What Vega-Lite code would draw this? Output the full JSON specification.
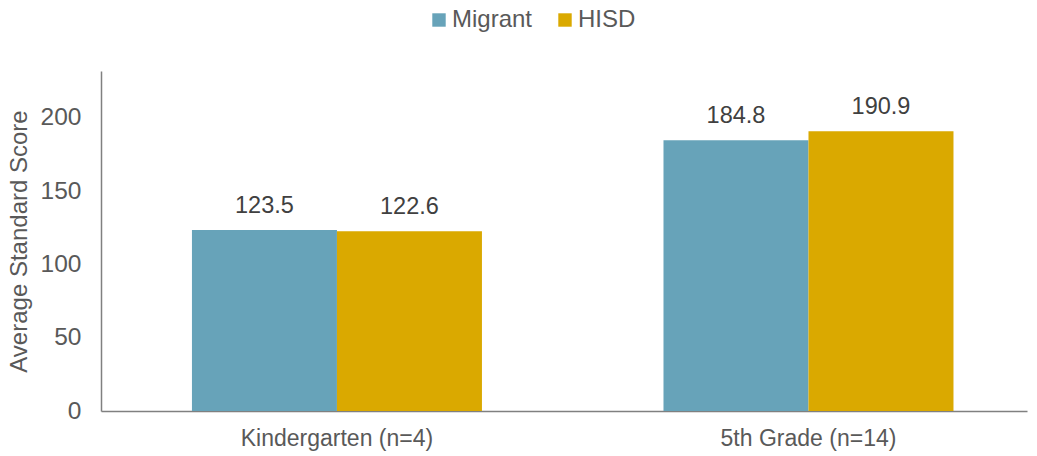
{
  "$schema": "https://vega.github.io/schema/vega-lite/v6.json",
  "width": 926,
  "height": 340,
  "autosize": {"type": "none"},
  "padding": {"left": 101, "top": 71, "right": 10, "bottom": 45},
  "background": "white",
  "config": {
    "view": {"stroke": null},
    "font": "Liberation Sans",
    "axis": {"labelFont": "Liberation Sans", "titleFont": "Liberation Sans", "labelColor": "#595959", "titleColor": "#595959", "grid": false, "ticks": false, "domainColor": "#808080", "domainWidth": 1.5}
  },
  "data": {
    "values": [
      {"grade": "Kindergarten (n=4)", "group": "Migrant", "score": 123.5},
      {"grade": "Kindergarten (n=4)", "group": "HISD", "score": 122.6},
      {"grade": "5th Grade (n=14)", "group": "Migrant", "score": 184.8},
      {"grade": "5th Grade (n=14)", "group": "HISD", "score": 190.9}
    ]
  },
  "encoding": {
    "x": {
      "field": "grade", "type": "nominal", "sort": ["Kindergarten (n=4)", "5th Grade (n=14)"],
      "scale": {"paddingInner": 0.385, "paddingOuter": 0.1744, "align": 0.553},
      "axis": {"title": null, "labelAngle": 0, "labelFontSize": 23, "labelPadding": 16, "labelLimit": 0}
    },
    "xOffset": {"field": "group", "type": "nominal", "sort": ["Migrant", "HISD"], "scale": {"paddingInner": 0}},
    "y": {
      "field": "score", "type": "quantitative",
      "scale": {"domain": [0, 232], "nice": false},
      "axis": {"values": [0, 50, 100, 150, 200], "title": "Average Standard Score", "titleFontSize": 24, "titleFontWeight": "normal", "labelFontSize": 24.5, "labelPadding": 20, "titlePadding": 9}
    }
  },
  "layer": [
    {
      "mark": {"type": "bar"},
      "encoding": {
        "color": {
          "field": "group", "type": "nominal", "sort": ["Migrant", "HISD"],
          "scale": {"domain": ["Migrant", "HISD"], "range": ["#67A3B9", "#DAA900"]},
          "legend": {"title": null, "orient": "none", "direction": "horizontal", "legendX": 326, "legendY": -63, "symbolType": "square", "symbolSize": 180, "symbolStrokeWidth": 0, "labelFontSize": 24, "labelColor": "#595959", "labelFont": "Liberation Sans", "columnPadding": 20, "labelOffset": 1}
        }
      }
    },
    {
      "mark": {"type": "text", "dy": -24, "fontSize": 23.5, "color": "#404040", "font": "Liberation Sans"},
      "encoding": {"text": {"field": "score", "type": "quantitative", "format": ".1f"}}
    }
  ]
}
